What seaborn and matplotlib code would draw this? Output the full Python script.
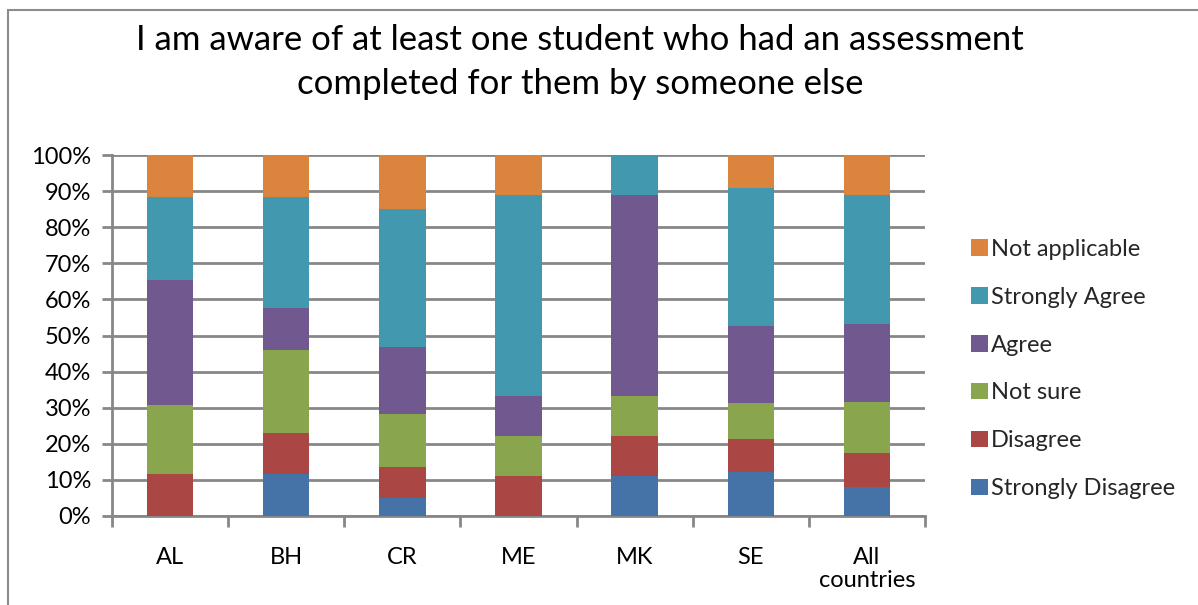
import matplotlib
matplotlib.use("Agg")
import matplotlib.pyplot as plt
from matplotlib.patches import Rectangle, Patch
from matplotlib.ticker import FixedLocator, PercentFormatter
import seaborn as sns
import pandas as pd
import numpy as np

countries = ["AL", "BH", "CR", "ME", "MK", "SE", "All\ncountries"]
responses = ["Strongly Disagree", "Disagree", "Not sure", "Agree",
             "Strongly Agree", "Not applicable"]

strongly_disagree = [0.0, 11.5, 4.9, 0.0, 11.1, 12.1, 7.9]
disagree = [11.5, 11.5, 8.6, 11.1, 11.1, 9.1, 9.6]
not_sure = [19.2, 23.1, 14.8, 11.1, 11.1, 10.1, 14.0]
agree = [34.6, 11.5, 18.5, 11.1, 55.6, 21.2, 21.8]
strongly_agree = [23.1, 30.8, 38.3, 55.6, 11.1, 38.4, 35.5]
not_applicable = [11.5, 11.5, 14.8, 11.1, 0.0, 9.1, 11.2]

colors = ["#4572A7", "#AA4643", "#89A54E", "#71588F", "#4198AF", "#DB843D"]

series = [strongly_disagree, disagree, not_sure, agree,
          strongly_agree, not_applicable]
df = pd.DataFrame({r: v for r, v in zip(responses, series)}, index=countries)
df.index.name = "country"

sns.set_theme(style="white")
font = "Lato"
plt.rcParams["font.family"] = [font, "DejaVu Sans"]

fig = plt.figure(figsize=(11.98, 6.05), dpi=100)
ax = fig.add_axes([112 / 1198, 1 - 516 / 605, (925 - 112) / 1198, (516 - 155) / 605])

grid_c = "#878787"
bottom = np.zeros(len(countries))
for resp, col in zip(responses, colors):
    sns.barplot(x=df.index, y=df[resp].values, bottom=bottom, color=col,
                saturation=1, width=0.4, ax=ax, edgecolor="none",
                linewidth=0, zorder=3)
    bottom += df[resp].values

ax.set_ylim(0, 100)
ax.set_xlim(-0.5, len(countries) - 0.5)
ax.yaxis.set_major_locator(FixedLocator(np.arange(0, 101, 10)))
ax.yaxis.set_major_formatter(PercentFormatter(decimals=0))
ax.yaxis.grid(True, color=grid_c, linewidth=2, zorder=0)
ax.set_axisbelow(True)
ax.set_xlabel("")
ax.set_ylabel("")

for s in ["top", "right"]:
    ax.spines[s].set_visible(False)
for s in ["left", "bottom"]:
    ax.spines[s].set_color(grid_c)
    ax.spines[s].set_linewidth(2)

ax.tick_params(axis="y", which="major", length=7, width=2, color=grid_c,
               labelsize=17, pad=8, labelcolor="black", left=True)
ax.set_xticks(range(len(countries)))
ax.set_xticklabels(countries, fontsize=17, linespacing=1.15)
ax.tick_params(axis="x", which="major", length=0, pad=22, labelcolor="black")
ax.xaxis.set_minor_locator(FixedLocator(np.arange(-0.5, len(countries), 1)))
ax.tick_params(axis="x", which="minor", length=8, width=2, color=grid_c,
               bottom=True, direction="out")
for lbl in ax.get_xticklabels():
    lbl.set_verticalalignment("top")

handles = [Patch(facecolor=c, edgecolor="none") for c in colors][::-1]
labels = responses[::-1]
ax.legend(handles, labels, loc="center left", bbox_to_anchor=(962 / 1198, 1 - 369 / 605),
          bbox_transform=fig.transFigure, frameon=False, fontsize=17,
          handlelength=0.7, handleheight=0.7, handletextpad=0.12,
          labelspacing=1.14, borderaxespad=0)

fig.text(580 / 1198, 1 - 40 / 605, "I am aware of at least one student who had an assessment",
         ha="center", va="center", fontsize=25, color="black")
fig.text(580 / 1198, 1 - 84 / 605, "completed for them by someone else",
         ha="center", va="center", fontsize=25, color="black")

fig.patches.append(Rectangle((8 / 1198, -0.1), 1.2, 1 - 10 / 605 + 0.1,
                             transform=fig.transFigure, fill=False,
                             edgecolor="#8c8c8c", linewidth=1.5))

fig.savefig("out.png", dpi=100)
